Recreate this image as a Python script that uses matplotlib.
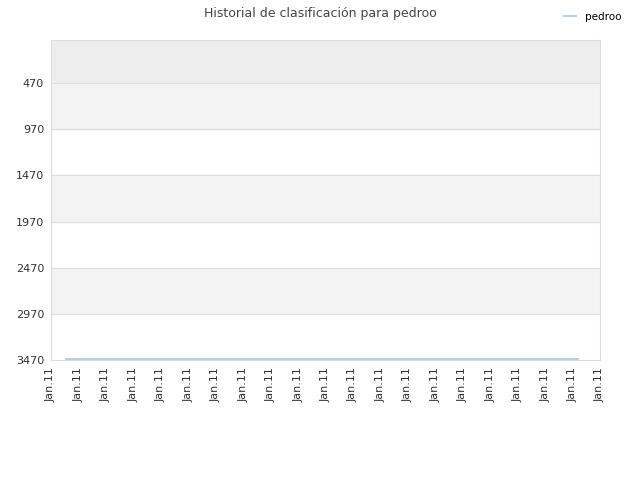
import matplotlib
matplotlib.use("Agg")
import matplotlib.pyplot as plt

# rank history (x = position in days, all labelled Jan.11)
days = [0.55, 19.2]
rank = [3460, 3460]
tick_labels = ["Jan.11"] * 21
y_ticks = [470, 970, 1470, 1970, 2470, 2970, 3470]

fig = plt.figure(figsize=(6.4, 4.8), dpi=100)
ax = fig.add_axes([51 / 640, 1 - 360 / 480, 549 / 640, 320 / 480])

# alternating bands
ax.axhspan(0, 470, color="#ededed", zorder=0)
for i in range(len(y_ticks) - 1):
    if i % 2 == 0:
        ax.axhspan(y_ticks[i], y_ticks[i + 1], color="#f3f3f3", zorder=0)
for y in y_ticks[:-1]:
    ax.axhline(y, color="#dddddd", lw=0.8, zorder=1)

ax.plot(days, rank, color="#a9c9ec", lw=1.3, label="pedroo", zorder=2)

ax.set_ylim(3470, 4)
ax.set_xlim(0, 20)
ax.set_yticks(y_ticks)
ax.set_xticks(range(len(tick_labels)))
ax.set_xticklabels(tick_labels, rotation=90)
ax.tick_params(labelsize=8, colors="#333333", length=0, pad=5)
for s in ax.spines.values():
    s.set_color("#dddddd")

fig.suptitle("Historial de clasificación para pedroo", fontsize=9, color="#444444", y=0.985)
fig.legend(loc="upper right", bbox_to_anchor=(0.985, 0.995), frameon=False,
           fontsize=7.5, handlelength=1.2)

fig.savefig("out.png", dpi=100)
